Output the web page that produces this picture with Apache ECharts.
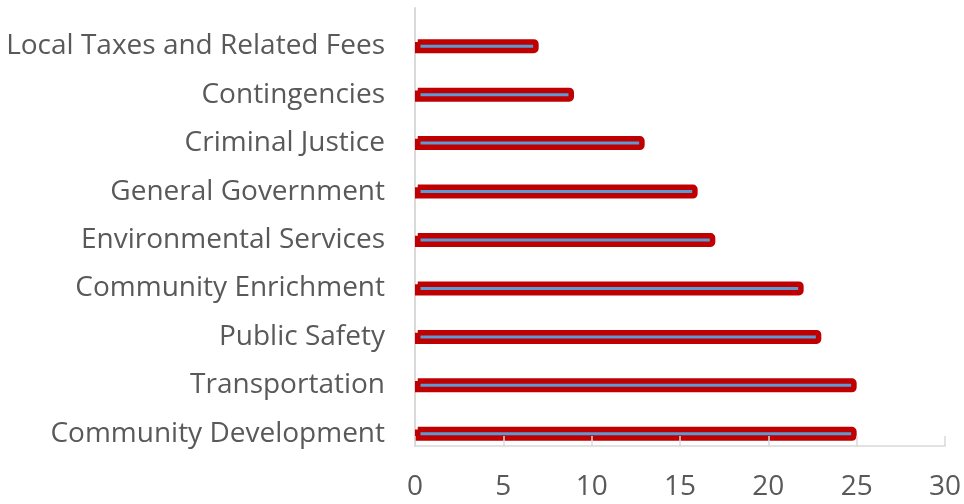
<!DOCTYPE html>
<html>
<head>
<meta charset="utf-8">
<script src="https://cdn.jsdelivr.net/npm/echarts@6/dist/echarts.min.js"></script>
<style>
  html, body { margin: 0; padding: 0; background: #fff; }
  #chart { width: 964px; height: 504px; }
</style>
</head>
<body>
<div id="chart"></div>
<script>
// categories bottom to top
const categories = [
  'Community Development',
  'Transportation',
  'Public Safety',
  'Community Enrichment',
  'Environmental Services',
  'General Government',
  'Criminal Justice',
  'Contingencies',
  'Local Taxes and Related Fees'
]
const values = [25, 25, 23, 22, 17, 16, 13, 9, 7]
const xTicks = { min: 0, max: 30, interval: 5 }

const chart = echarts.init(document.getElementById('chart'))
const fontFamily = '"Open Sans", sans-serif'
const axisGray = '#d9d9d9'

chart.setOption({
  animation: false,
  grid: [
    { left: 415, right: 19, top: 22, bottom: 46 },
    // only used to draw the full-height vertical axis line
    { left: 415, right: 19, top: 8, bottom: 58 }
  ],
  xAxis: [
    {
      type: 'value',
      gridIndex: 0,
      min: xTicks.min,
      max: xTicks.max,
      interval: xTicks.interval,
      offset: -12,
      z: 5,
      axisLine: { show: true, lineStyle: { color: axisGray, width: 1.5 } },
      axisTick: { show: true, inside: true, length: 10, lineStyle: { color: axisGray, width: 1.5 } },
      splitLine: { show: false },
      axisLabel: { color: '#595959', fontSize: 28, fontFamily: fontFamily, margin: 27 }
    },
    { type: 'value', gridIndex: 1, show: false }
  ],
  yAxis: [
    {
      type: 'category',
      gridIndex: 0,
      data: categories,
      axisLine: { show: false },
      axisTick: { show: false },
      axisLabel: { color: '#595959', fontSize: 28, fontFamily: fontFamily, margin: 30 }
    },
    {
      type: 'category',
      gridIndex: 1,
      data: categories,
      axisLine: { show: true, lineStyle: { color: axisGray, width: 2 } },
      axisTick: { show: false },
      axisLabel: { show: false }
    }
  ],
  series: [
    {
      type: 'bar',
      xAxisIndex: 0,
      yAxisIndex: 0,
      data: values,
      barWidth: 14,
      itemStyle: {
        color: '#5B9BD5',
        borderColor: '#C00000',
        borderWidth: 5.5,
        borderRadius: [0, 2, 2, 0]
      }
    }
  ]
})
</script>
</body>
</html>
